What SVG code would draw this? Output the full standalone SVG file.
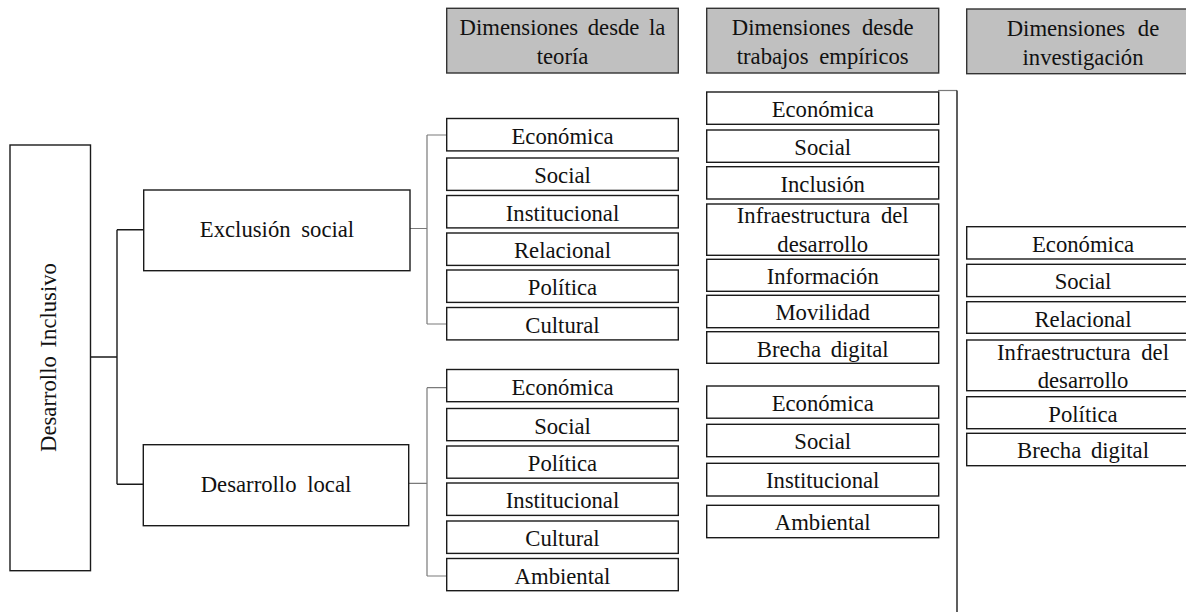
<svg xmlns="http://www.w3.org/2000/svg" width="1186" height="612" viewBox="0 0 1186 612">
<style>
  .box { fill: #ffffff; stroke: #1a1a1a; stroke-width: 1.4; }
  .hdr { fill: #c0c0c0; stroke: #333333; stroke-width: 1.4; }
  text { font-size: 22.7px; fill: #111111; text-anchor: middle; word-spacing: 3px; }
  .dark { fill: none; stroke: #1a1a1a; stroke-width: 1.4; }
  .grey { fill: none; stroke: #7a7a7a; stroke-width: 1.2; }
</style>
<rect width="1186" height="612" fill="#ffffff"/>

<g id="connectors">
  <path class="dark" d="M90.5 357 H117 M117 229.7 V484.3 M117 229.7 H143.5 M117 484.3 H143.5"/>
  <path class="grey" d="M410 228.5 H427 M427 135 V324 M427 135 H447 M427 324 H447"/>
  <path class="grey" d="M408.7 483.3 H427 M427 387.7 V576 M427 387.7 H447 M427 576 H447"/>
  <path class="grey" d="M938 90.5 H957"/>
  <path class="dark" d="M957 90.5 V612" stroke="#333333"/>
</g>

<g font-family="Liberation Serif, DejaVu Serif, serif">
<g id="main">
  <rect class="box" x="10" y="145" width="80.5" height="425.7"/>
  <text transform="translate(56,357.5) rotate(-90)" x="0" y="0">Desarrollo Inclusivo</text>
</g>

<g id="exclusion">
  <rect class="box" x="143.7" y="190" width="266.3" height="80.7"/>
  <text x="277" y="236.7" style="word-spacing:5px">Exclusión social</text>
</g>
<g id="deslocal">
  <rect class="box" x="143.3" y="444.7" width="265.4" height="81"/>
  <text x="276" y="492.3" style="word-spacing:5px">Desarrollo local</text>
</g>

<g id="hdr-teoria">
  <rect class="hdr" x="446.7" y="8.3" width="231.6" height="64.7"/>
  <text x="562.5" y="35" style="word-spacing:4px">Dimensiones desde la</text>
  <text x="562.5" y="63.5">teoría</text>
</g>
<g id="hdr-empiricos">
  <rect class="hdr" x="706.7" y="8.3" width="232" height="64.7"/>
  <text x="822.7" y="35" style="word-spacing:6px">Dimensiones desde</text>
  <text x="822.7" y="64" style="word-spacing:5px">trabajos empíricos</text>
</g>
<g id="hdr-investigacion">
  <rect class="hdr" x="966.7" y="9" width="232" height="64.7"/>
  <text x="1083" y="35.5" style="word-spacing:7px">Dimensiones de</text>
  <text x="1083" y="64.5">investigación</text>
</g>

<g id="t1-economica"><rect class="box" x="446.7" y="118.5" width="231.6" height="32.4"/><text x="562.5" y="144">Económica</text></g>
<g id="t1-social"><rect class="box" x="446.7" y="158" width="231.6" height="32.4"/><text x="562.5" y="183">Social</text></g>
<g id="t1-institucional"><rect class="box" x="446.7" y="195.5" width="231.6" height="32.4"/><text x="562.5" y="220.5">Institucional</text></g>
<g id="t1-relacional"><rect class="box" x="446.7" y="233" width="231.6" height="32.4"/><text x="562.5" y="258">Relacional</text></g>
<g id="t1-politica"><rect class="box" x="446.7" y="270" width="231.6" height="32.4"/><text x="562.5" y="295">Política</text></g>
<g id="t1-cultural"><rect class="box" x="446.7" y="307.5" width="231.6" height="32.4"/><text x="562.5" y="332.5">Cultural</text></g>

<g id="t2-economica"><rect class="box" x="446.7" y="369.5" width="231.6" height="32.2"/><text x="562.5" y="394.5">Económica</text></g>
<g id="t2-social"><rect class="box" x="446.7" y="408.5" width="231.6" height="32.2"/><text x="562.5" y="433.5">Social</text></g>
<g id="t2-politica"><rect class="box" x="446.7" y="446" width="231.6" height="32.2"/><text x="562.5" y="471">Política</text></g>
<g id="t2-institucional"><rect class="box" x="446.7" y="483" width="231.6" height="32.4"/><text x="562.5" y="508">Institucional</text></g>
<g id="t2-cultural"><rect class="box" x="446.7" y="521" width="231.6" height="32.4"/><text x="562.5" y="546">Cultural</text></g>
<g id="t2-ambiental"><rect class="box" x="446.7" y="558.5" width="231.6" height="32.2"/><text x="562.5" y="583.5">Ambiental</text></g>

<g id="e1-economica"><rect class="box" x="706.7" y="92" width="232" height="32.3"/><text x="822.7" y="117">Económica</text></g>
<g id="e1-social"><rect class="box" x="706.7" y="130" width="232" height="32.3"/><text x="822.7" y="155">Social</text></g>
<g id="e1-inclusion"><rect class="box" x="706.7" y="166.7" width="232" height="32.3"/><text x="822.7" y="191.7">Inclusión</text></g>
<g id="e1-infraestructura"><rect class="box" x="706.7" y="204" width="232" height="51.3"/><text x="822.7" y="222.7" style="word-spacing:5px">Infraestructura del</text><text x="822.7" y="251.5">desarrollo</text></g>
<g id="e1-informacion"><rect class="box" x="706.7" y="259.3" width="232" height="32"/><text x="822.7" y="284">Información</text></g>
<g id="e1-movilidad"><rect class="box" x="706.7" y="295.3" width="232" height="32.4"/><text x="822.7" y="320">Movilidad</text></g>
<g id="e1-brecha"><rect class="box" x="706.7" y="331.7" width="232" height="31.6"/><text x="822.7" y="356.5" style="word-spacing:4px">Brecha digital</text></g>

<g id="e2-economica"><rect class="box" x="706.7" y="386" width="232" height="32.2"/><text x="822.7" y="411">Económica</text></g>
<g id="e2-social"><rect class="box" x="706.7" y="424.3" width="232" height="32.4"/><text x="822.7" y="449.3">Social</text></g>
<g id="e2-institucional"><rect class="box" x="706.7" y="463.3" width="232" height="32.7"/><text x="822.7" y="488.3">Institucional</text></g>
<g id="e2-ambiental"><rect class="box" x="706.7" y="505.3" width="232" height="32.4"/><text x="822.7" y="530.3">Ambiental</text></g>

<g id="r-economica"><rect class="box" x="966.7" y="226.7" width="232" height="32.3"/><text x="1083" y="251.7">Económica</text></g>
<g id="r-social"><rect class="box" x="966.7" y="264.3" width="232" height="32.3"/><text x="1083" y="289.3">Social</text></g>
<g id="r-relacional"><rect class="box" x="966.7" y="301.7" width="232" height="31.6"/><text x="1083" y="326.5">Relacional</text></g>
<g id="r-infraestructura"><rect class="box" x="966.7" y="340" width="232" height="50.7"/><text x="1083" y="360" style="word-spacing:5px">Infraestructura del</text><text x="1083" y="388.3">desarrollo</text></g>
<g id="r-politica"><rect class="box" x="966.7" y="396.7" width="232" height="32"/><text x="1083" y="421.5">Política</text></g>
<g id="r-brecha"><rect class="box" x="966.7" y="433.3" width="232" height="32.4"/><text x="1083" y="458.3" style="word-spacing:4px">Brecha digital</text></g>
</g>
</svg>
